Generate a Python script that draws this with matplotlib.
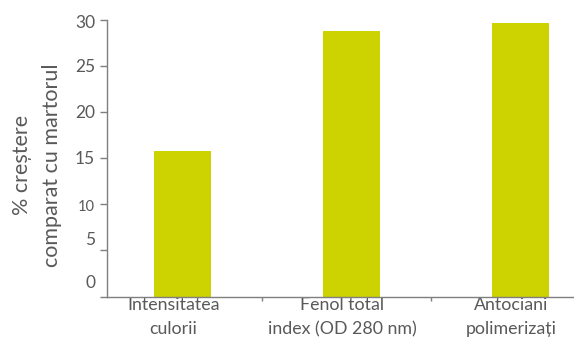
import numpy as np
import matplotlib
matplotlib.use('Agg')
import matplotlib.pyplot as plt
from matplotlib.transforms import ScaledTranslation

# Datos
categorias = ['Intensitatea\nculorii', 'Fenol total\nindex (OD 280 nm)', 'Antociani\npolimerizați']
valores = [15.8, 28.8, 29.7]
y_ticks = [0, 5, 10, 15, 20, 25, 30]

gris = '#595959'
verde = '#CDD300'

plt.rcParams['font.family'] = ['Lato', 'DejaVu Sans']

fig = plt.figure(figsize=(5.74, 3.4), dpi=100)
ax = fig.add_axes([106.7 / 574, 43.5 / 340, (574 - 106.7) / 574, 276.5 / 340])

x = np.arange(len(categorias))
ax.bar(x, valores, width=0.337, color=verde, zorder=2)

ax.set_ylim(0, 30)
ax.set_xlim(-0.4485, 2.3166)

for s in ['top', 'right']:
    ax.spines[s].set_visible(False)
for s in ['left', 'bottom']:
    ax.spines[s].set_color('#7f7f7f')
    ax.spines[s].set_linewidth(1.0)

# eje y: marcas y etiquetas colocadas a mano (desplazadas como en el original)
ax.set_yticks(y_ticks)
ax.set_yticklabels([])
ax.tick_params(axis='y', length=5, width=1, color='#7f7f7f')
desp_px = [-13, -10.5, 3, 1, 1.3, 1, 2.5]  # positivo = hacia abajo
tam = [12.5, 12.5, 10.5, 12.5, 12.5, 12.5, 12.5]
for v, d, t in zip(y_ticks, desp_px, tam):
    tr = ax.get_yaxis_transform() + ScaledTranslation(0, -d / 100, fig.dpi_scale_trans)
    ax.text(-0.025, v, str(v), transform=tr, ha='right', va='center',
            fontsize=t, color=gris)

# eje x: etiquetas de categoria y marcas entre categorias
ax.set_xticks(x)
ax.set_xticklabels(categorias, fontsize=12.8, color=gris, linespacing=1.65)
ax.tick_params(axis='x', which='major', length=0, pad=0)
off = ScaledTranslation(-9 / 100, 0, fig.dpi_scale_trans)
for lab in ax.get_xticklabels():
    lab.set_transform(lab.get_transform() + off)
ax.set_xticks([0.47, 1.47], minor=True)
ax.tick_params(axis='x', which='minor', length=3, width=1, color='#7f7f7f')

ax.set_ylabel('% creștere\ncomparat cu martorul', fontsize=15.5, color=gris,
              linespacing=1.6)
ax.yaxis.set_label_coords(-0.0957, 0.476)

fig.savefig('out.png', dpi=100)
